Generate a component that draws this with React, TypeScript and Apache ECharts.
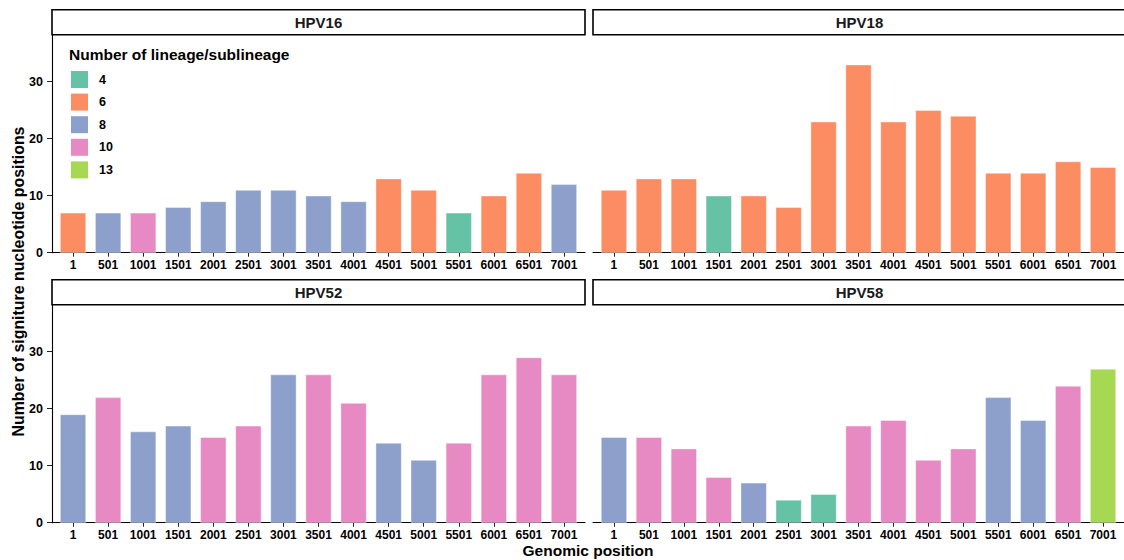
import React, { useEffect, useRef } from 'react';
import * as echarts from 'echarts';

const positions = ['1', '501', '1001', '1501', '2001', '2501', '3001', '3501', '4001', '4501', '5001', '5501', '6001', '6501', '7001'];
const panels = ['HPV16', 'HPV18', 'HPV52', 'HPV58'];
const lineageLevels = ['4', '6', '8', '10', '13'];
const levelColors = ['#66C2A5', '#FC8D62', '#8DA0CB', '#E78AC3', '#A6D854'];

const hpv16Counts = [7, 7, 7, 8, 9, 11, 11, 10, 9, 13, 11, 7, 10, 14, 12];
const hpv16Lineages = ['6', '8', '10', '8', '8', '8', '8', '8', '8', '6', '6', '4', '6', '6', '8'];
const hpv18Counts = [11, 13, 13, 10, 10, 8, 23, 33, 23, 25, 24, 14, 14, 16, 15];
const hpv18Lineages = ['6', '6', '6', '4', '6', '6', '6', '6', '6', '6', '6', '6', '6', '6', '6'];
const hpv52Counts = [19, 22, 16, 17, 15, 17, 26, 26, 21, 14, 11, 14, 26, 29, 26];
const hpv52Lineages = ['8', '10', '8', '8', '10', '10', '8', '10', '10', '8', '8', '10', '10', '10', '10'];
const hpv58Counts = [15, 15, 13, 8, 7, 4, 5, 17, 18, 11, 13, 22, 18, 24, 27];
const hpv58Lineages = ['8', '10', '10', '10', '8', '4', '4', '10', '10', '10', '10', '8', '8', '10', '13'];

const yTicks = [0, 10, 20, 30];

const yTitle = 'Number of signiture nucleotide positions';
const xTitle = 'Genomic position';
const legendTitle = 'Number of lineage/sublineage';

const FONT = '"Liberation Sans", Arial, Helvetica, sans-serif';

export default function App() {
  const ref = useRef<HTMLDivElement>(null);

  useEffect(() => {
    if (!ref.current) return;
    const chart = echarts.init(ref.current, null, { renderer: 'svg' });

    const counts = [hpv16Counts, hpv18Counts, hpv52Counts, hpv58Counts];
    const lineages = [hpv16Lineages, hpv18Lineages, hpv52Lineages, hpv58Lineages];
    const colorOf = (lv: string) => levelColors[lineageLevels.indexOf(lv)];

    const W = 533;
    const H = 217.7;
    const layout = [
      { left: 52, top: 35 },
      { left: 593, top: 35 },
      { left: 52, top: 305 },
      { left: 593, top: 305 },
    ];
    const tickVals = positions.map((_, i) => i + 1);

    const grids = layout.map((l) => ({ left: l.left, top: l.top, width: W, height: H, containLabel: false }));

    const xAxes = layout.map((_, i) => ({
      type: 'value',
      gridIndex: i,
      min: 0.4,
      max: 15.6,
      axisLine: { show: true, lineStyle: { color: '#000', width: 1.1 } },
      axisTick: { show: true, length: 4, customValues: tickVals, lineStyle: { color: '#222', width: 1 } },
      axisLabel: {
        show: true,
        customValues: tickVals,
        formatter: (v: number) => positions[Math.round(v) - 1] ?? '',
        color: '#000',
        fontWeight: 'bold',
        fontSize: 12,
        fontFamily: FONT,
        margin: 6,
      },
      splitLine: { show: false },
    }));

    const yAxes = layout.map((_, i) => ({
      type: 'value',
      gridIndex: i,
      min: 0,
      max: 38.2,
      interval: 10,
      show: i % 2 === 0,
      axisLine: { show: true, lineStyle: { color: '#000', width: 1.1 } },
      axisTick: { show: true, length: 5, customValues: yTicks, lineStyle: { color: '#222', width: 1 } },
      axisLabel: {
        show: true,
        customValues: yTicks,
        color: '#000',
        fontWeight: 'bold',
        fontSize: 12.5,
        fontFamily: FONT,
        margin: 9,
      },
      splitLine: { show: false },
    }));

    const barSeries = counts.map((arr, i) => ({
      type: 'bar',
      name: panels[i],
      xAxisIndex: i,
      yAxisIndex: i,
      barWidth: 26,
      data: arr.map((v, j) => ({
        value: [j + 1, v],
        itemStyle: { color: colorOf(lineages[i][j]), borderColor: 'rgba(255,255,255,0.7)', borderWidth: 0.6 },
      })),
    }));

    const legendSeries = lineageLevels.map((lv, k) => ({
      type: 'scatter',
      name: lv,
      xAxisIndex: 0,
      yAxisIndex: 0,
      data: [],
      itemStyle: { color: levelColors[k], opacity: 1 },
    }));

    const stripGraphics: any[] = [];
    layout.forEach((l, i) => {
      stripGraphics.push({
        type: 'rect',
        shape: { x: l.left, y: l.top - 25.2, width: W, height: 25 },
        style: { fill: '#fff', stroke: '#000', lineWidth: 1.6 },
        z: 10,
      });
      stripGraphics.push({
        type: 'text',
        x: l.left + W / 2,
        y: l.top - 12.5,
        style: {
          text: panels[i],
          fontFamily: FONT,
          fontWeight: 'bold',
          fontSize: 15,
          fill: '#1a1a1a',
          align: 'center',
          verticalAlign: 'middle',
        },
        z: 11,
      });
    });

    chart.setOption({
      animation: false,
      backgroundColor: '#fff',
      textStyle: { fontFamily: FONT },
      grid: grids,
      xAxis: xAxes,
      yAxis: yAxes,
      legend: {
        data: lineageLevels,
        orient: 'vertical',
        left: 71,
        top: 71,
        padding: 0,
        itemWidth: 17,
        itemHeight: 17,
        itemGap: 5.6,
        icon: 'rect',
        selectedMode: false,
        itemStyle: { opacity: 1 },
        textStyle: { fontFamily: FONT, fontWeight: 'bold', fontSize: 12.5, color: '#000', padding: [0, 0, 0, 6] },
      },
      series: [...barSeries, ...legendSeries],
      graphic: [
        ...stripGraphics,
        {
          type: 'text',
          x: 69,
          y: 54,
          style: {
            text: legendTitle,
            fontFamily: FONT,
            fontWeight: 'bold',
            fontSize: 15.5,
            fill: '#000',
            align: 'left',
            verticalAlign: 'middle',
          },
        },
        {
          type: 'text',
          x: 18.5,
          y: 281.5,
          rotation: Math.PI / 2,
          style: {
            text: yTitle,
            fontFamily: FONT,
            fontWeight: 'bold',
            fontSize: 15.9,
            fill: '#000',
            align: 'center',
            verticalAlign: 'middle',
          },
        },
        {
          type: 'text',
          x: 588,
          y: 550,
          style: {
            text: xTitle,
            fontFamily: FONT,
            fontWeight: 'bold',
            fontSize: 15.5,
            fill: '#000',
            align: 'center',
            verticalAlign: 'middle',
          },
        },
      ],
    });

    return () => chart.dispose();
  }, []);

  return (
    <div
      ref={ref}
      style={{ position: 'fixed', left: 0, top: 0, width: 1124, height: 560, background: '#fff' }}
    />
  );
}
